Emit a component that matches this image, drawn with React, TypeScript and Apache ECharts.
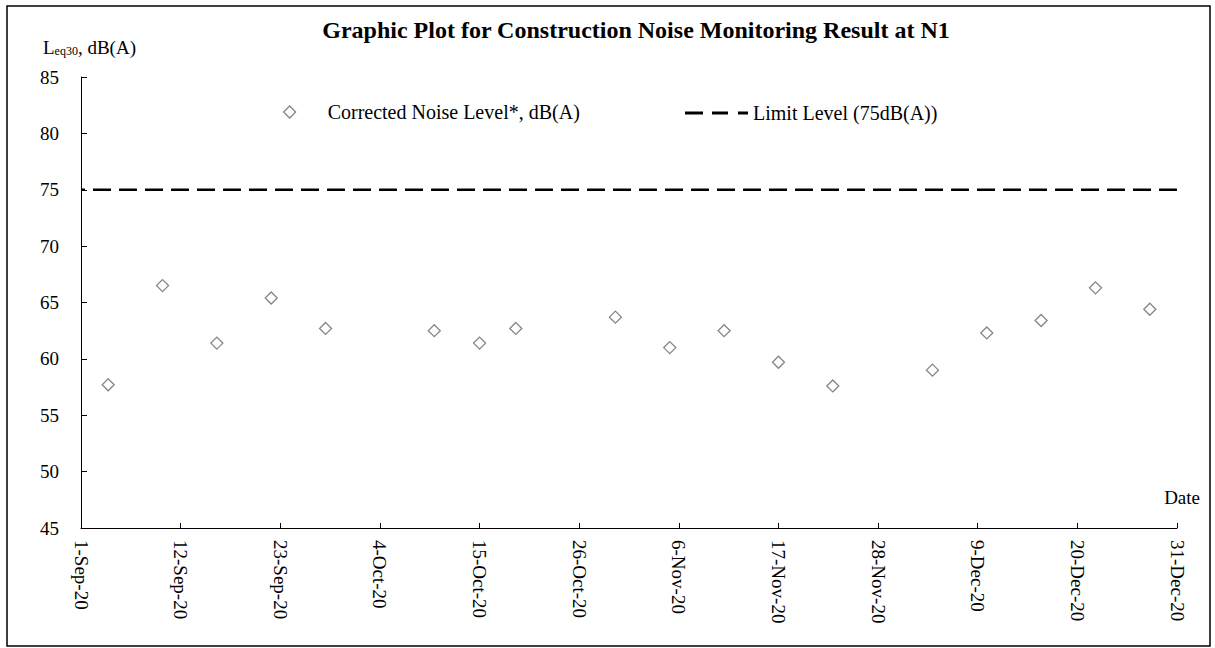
import React, { useEffect, useRef } from "react";
import * as echarts from "echarts";

const FONT = "Liberation Serif";

const TITLE = "Graphic Plot for Construction Noise Monitoring Result at N1";
const SERIES_NAME = "Corrected Noise Level*, dB(A)";
const LIMIT_NAME = "Limit Level (75dB(A))";

const START_DATE = "2020-09-01";
const END_DATE = "2020-12-31";
const TICK_DAYS = 11;
const X_TICK_LABELS = [
  "1-Sep-20", "12-Sep-20", "23-Sep-20", "4-Oct-20", "15-Oct-20", "26-Oct-20",
  "6-Nov-20", "17-Nov-20", "28-Nov-20", "9-Dec-20", "20-Dec-20", "31-Dec-20",
];

const Y_MIN = 45;
const Y_MAX = 85;
const Y_STEP = 5;
const LIMIT_LEVEL = 75;

const DATES = [
  "2020-09-04", "2020-09-10", "2020-09-16", "2020-09-22", "2020-09-28",
  "2020-10-10", "2020-10-15", "2020-10-19", "2020-10-30", "2020-11-05",
  "2020-11-11", "2020-11-17", "2020-11-23", "2020-12-04", "2020-12-10",
  "2020-12-16", "2020-12-22", "2020-12-28",
];
const VALUES = [
  57.7, 66.5, 61.4, 65.4, 62.7,
  62.5, 61.4, 62.7, 63.7, 61.0,
  62.5, 59.7, 57.6, 59.0, 62.3,
  63.4, 66.3, 64.4,
];

const DAY = 86400000;
const toUTC = (s: string) => {
  const [y, m, d] = s.split("-").map(Number);
  return Date.UTC(y, m - 1, d);
};
const toOffset = (s: string) => (toUTC(s) - toUTC(START_DATE)) / DAY;

export default function App() {
  const ref = useRef<HTMLDivElement>(null);

  useEffect(() => {
    document.body.style.margin = "0";
    if (!ref.current) return;
    const chart = echarts.init(ref.current, undefined, { renderer: "svg" });
    const xMax = toOffset(END_DATE);

    const option: any = {
      animation: false,
      textStyle: { fontFamily: FONT, color: "#000" },
      grid: { left: 81, right: 38, top: 77, bottom: 120, containLabel: false },
      xAxis: {
        type: "value",
        min: 0,
        max: xMax,
        interval: TICK_DAYS,
        axisLine: { show: true, onZero: false, lineStyle: { color: "#000", width: 1 } },
        axisTick: { show: true, inside: true, length: 5, lineStyle: { color: "#000" } },
        axisLabel: {
          rotate: -90,
          margin: 12,
          fontSize: 19,
          fontFamily: FONT,
          color: "#000",
          formatter: (v: number) => X_TICK_LABELS[Math.round(v / TICK_DAYS)] ?? "",
        },
        splitLine: { show: false },
      },
      yAxis: {
        type: "value",
        min: Y_MIN,
        max: Y_MAX,
        interval: Y_STEP,
        axisLine: { show: true, onZero: false, lineStyle: { color: "#000", width: 1 } },
        axisTick: { show: true, inside: true, length: 6, lineStyle: { color: "#000" } },
        axisLabel: { margin: 22, fontSize: 19, fontFamily: FONT, color: "#000" },
        splitLine: { show: false },
      },
      legend: [
        {
          data: [SERIES_NAME],
          left: 283,
          top: 102,
          padding: 0,
          itemWidth: 12,
          itemHeight: 12,
          itemStyle: { color: "#fff", borderColor: "#666", borderWidth: 1.3 },
          textStyle: { fontSize: 20, fontFamily: FONT, color: "#000", padding: [0, 0, 0, 27] },
        },
        {
          data: [{ name: LIMIT_NAME, icon: "path://M0,0h18v3h-18zM27,0h16v3h-16zM53,0h10v3h-10z" }],
          left: 685,
          top: 103,
          padding: 0,
          itemWidth: 63,
          itemHeight: 3,
          symbolKeepAspect: false,
          textStyle: { fontSize: 20, fontFamily: FONT, color: "#000" },
        },
      ],
      series: [
        {
          type: "scatter",
          name: SERIES_NAME,
          data: DATES.map((d, i) => [toOffset(d), VALUES[i]]),
          symbol: "diamond",
          symbolSize: 12,
          itemStyle: { color: "#fff", borderColor: "#666", borderWidth: 1.3 },
          z: 3,
        },
        {
          type: "line",
          name: LIMIT_NAME,
          data: [[0, LIMIT_LEVEL], [xMax, LIMIT_LEVEL]],
          symbol: "none",
          lineStyle: { color: "#000", width: 2.5, type: [18, 8], dashOffset: -12 },
          itemStyle: { color: "#000" },
          z: 2,
        },
      ],
      graphic: [
        {
          type: "rect",
          silent: true,
          z: -1,
          shape: { x: 7, y: 6, width: 1203, height: 640 },
          style: { fill: "none", stroke: "#000", lineWidth: 1.5 },
        },
        {
          type: "text",
          x: 636,
          y: 30,
          style: {
            text: TITLE,
            fontSize: 24,
            fontWeight: "bold",
            fontFamily: FONT,
            fill: "#000",
            align: "center",
            verticalAlign: "middle",
          },
        },
        {
          type: "text",
          x: 43,
          y: 47,
          style: {
            text: "{a|L}{b|eq30}{a|, dB(A)}",
            verticalAlign: "middle",
            fontFamily: FONT,
            fill: "#000",
            rich: {
              a: { fontSize: 19, fontFamily: FONT, fill: "#000", lineHeight: 20 },
              b: { fontSize: 12, fontFamily: FONT, fill: "#000", lineHeight: 12, verticalAlign: "bottom" },
            },
          },
        },
        {
          type: "text",
          x: 1200,
          y: 497,
          style: {
            text: "Date",
            fontSize: 19,
            fontFamily: FONT,
            fill: "#000",
            align: "right",
            verticalAlign: "middle",
          },
        },
      ],
    };

    chart.setOption(option);
    return () => chart.dispose();
  }, []);

  return <div ref={ref} style={{ width: 1215, height: 648 }} />;
}
